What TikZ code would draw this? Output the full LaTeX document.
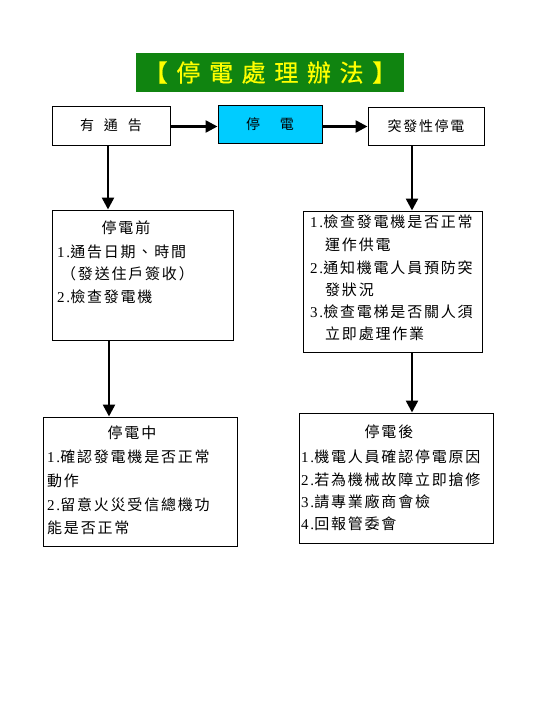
\documentclass[tikz,border=0pt]{standalone}
\usepackage{fontspec}
\setmainfont{Noto Sans CJK TC}[LetterSpace=12]
\newfontfamily\lat{Liberation Serif}[LetterSpace=12]
\newfontfamily\ttl{Noto Sans CJK TC}[LetterSpace=36,FakeBold=0.6]
\usetikzlibrary{arrows.meta}
\definecolor{titlegreen}{RGB}{16,132,16}
\definecolor{titleyellow}{RGB}{255,255,0}
\definecolor{boxcyan}{RGB}{0,204,255}
\tikzset{
  box/.style={draw, line width=1pt, rectangle, inner sep=0pt},
  arr/.style={line width=2.5pt, -{Triangle[length=12pt,width=12pt]}},
  txt/.style={anchor=west, inner sep=0pt, font=\fontsize{15}{15}\selectfont},
  ctr/.style={anchor=center, inner sep=0pt, font=\fontsize{15}{15}\selectfont},
  top/.style={anchor=center, inner sep=0pt, font=\fontsize{14}{14}\selectfont}
}
\newcommand{\nm}[1]{{\lat #1}}
\begin{document}
\begin{tikzpicture}[x=1pt,y=-1pt]
\useasboundingbox (0,0) rectangle (540,709);
% title
\node[fill=titlegreen, inner sep=0pt, minimum width=268pt, minimum height=39pt,
      text=titleyellow, font=\ttl\fontsize{24}{24}\selectfont] (title) at (270,72.5) {【停電處理辦法】};
% top row
\node[box, minimum width=118pt, minimum height=39pt] (tong) at (111,125.5) {};
\node[top] (tongt) at (tong.center) {有\hspace{10pt}通\hspace{10pt}告};
\node[box, fill=boxcyan, minimum width=104pt, minimum height=38pt] (ting) at (270,124) {};
\node[top] (tingt) at (ting.center) {停\hspace{20pt}電};
\node[box, minimum width=116pt, minimum height=38pt] (tufa) at (426,126) {};
\node[top] (tufat) at (tufa.center) {突發性停電};
% middle boxes
\node[box, minimum width=181pt, minimum height=130pt] (qian) at (142.5,275) {};
\node[box, minimum width=179pt, minimum height=141pt] (right) at (392.5,281.5) {};
% bottom boxes
\node[box, minimum width=194pt, minimum height=129pt] (zhong) at (140,481.5) {};
\node[box, minimum width=194pt, minimum height=130pt] (hou) at (396,478) {};
% arrows
\coordinate (lx1) at (108,0);
\coordinate (lx2) at (109,0);
\coordinate (rx) at (412,0);
\draw[arr] (tong.east |- 0,126.5) -- (ting.west |- 0,126.5);
\draw[arr] (ting.east |- 0,126.5) -- (tufa.west |- 0,126.5);
\draw[arr] (tong.south -| lx1) -- (qian.north -| lx1);
\draw[arr] (qian.south -| lx2) -- (zhong.north -| lx2);
\draw[arr] (tufa.south -| rx) -- (right.north -| rx);
\draw[arr] (right.south -| rx) -- (hou.north -| rx);
% qian text
\node[ctr] (q0) at (126,228) {停電前};
\node[txt] (q1) at (57,252) {\nm{1.}通告日期、時間};
\node[txt] (q2) at (61,274) {（發送住戶簽收）};
\node[txt] (q3) at (57,297) {\nm{2.}檢查發電機};
% right text
\node[txt] (r1) at (310,222) {\nm{1.}檢查發電機是否正常};
\node[txt] (r2) at (325,245) {運作供電};
\node[txt] (r3) at (310,268) {\nm{2.}通知機電人員預防突};
\node[txt] (r4) at (325,290) {發狀況};
\node[txt] (r5) at (310,312) {\nm{3.}檢查電梯是否關人須};
\node[txt] (r6) at (325,334) {立即處理作業};
% zhong text
\node[ctr] (z0) at (132,433) {停電中};
\node[txt] (z1) at (47,457) {\nm{1.}確認發電機是否正常};
\node[txt] (z2) at (47,481) {動作};
\node[txt] (z3) at (47,505) {\nm{2.}留意火災受信總機功};
\node[txt] (z4) at (47,528) {能是否正常};
% hou text
\node[ctr] (h0) at (389,432) {停電後};
\node[txt] (h1) at (301,457) {\nm{1.}機電人員確認停電原因};
\node[txt] (h2) at (301,480) {\nm{2.}若為機械故障立即搶修};
\node[txt] (h3) at (301,502) {\nm{3.}請專業廠商會檢};
\node[txt] (h4) at (301,524) {\nm{4.}回報管委會};
\end{tikzpicture}
\end{document}
